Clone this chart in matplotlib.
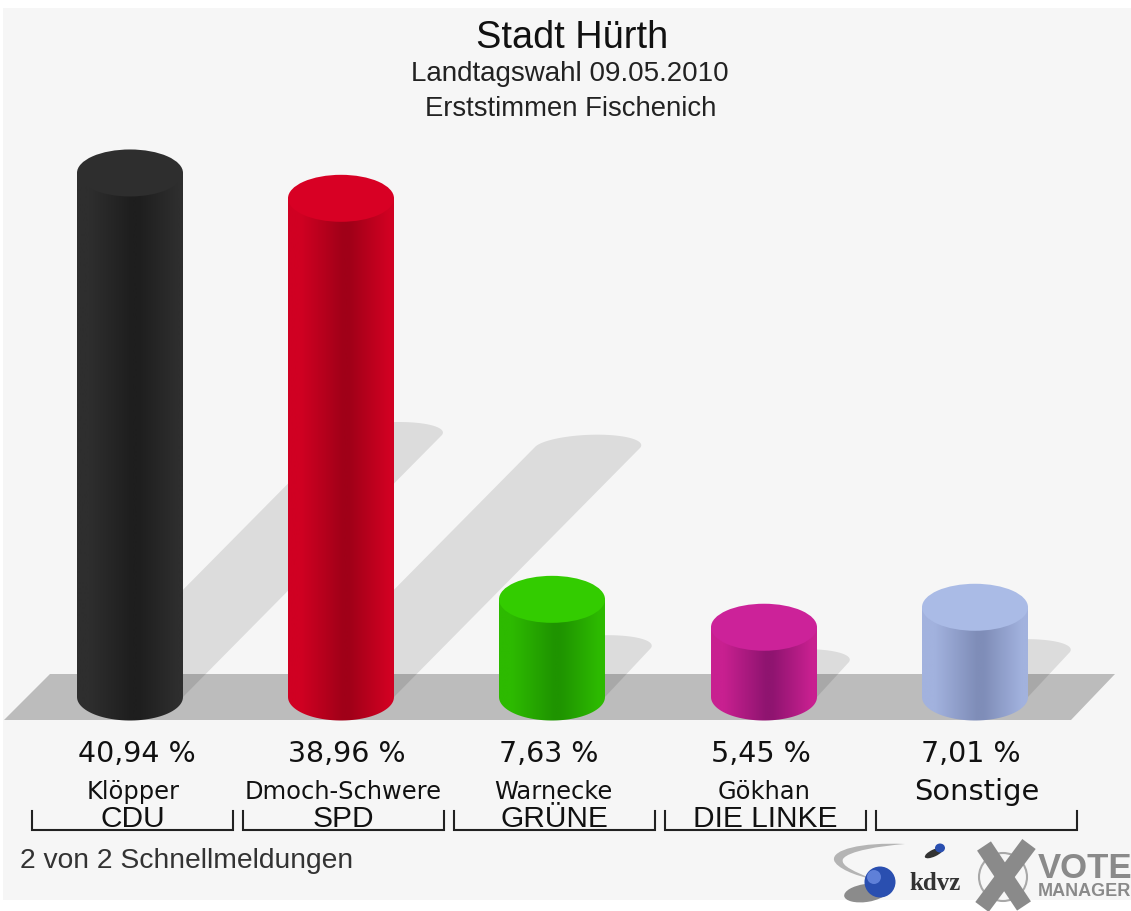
import matplotlib
matplotlib.use("Agg")
import matplotlib.pyplot as plt
import numpy as np
from matplotlib.colors import LinearSegmentedColormap
from matplotlib.patches import Ellipse, Polygon, PathPatch, Rectangle, Circle
from matplotlib.path import Path

# Data -----------------------------------------------------------------
values = [40.94, 38.96, 7.63, 5.45, 7.01]
value_labels = ["40,94 %", "38,96 %", "7,63 %", "5,45 %", "7,01 %"]
candidates = ["Klöpper", "Dmoch-Schwere", "Warnecke", "Gökhan", "Sonstige"]
parties = ["CDU", "SPD", "GRÜNE", "DIE LINKE", ""]
top_colors = ["#2e2e2e", "#d80024", "#33cc00", "#cc2299", "#aabbe6"]
edge_colors = ["#2e2e2e", "#d00022", "#2dba00", "#c82090", "#a2b2de"]
side_colors = ["#1e1e1e", "#a00018", "#1f9400", "#8f1470", "#7f8db8"]

W, H = 1131, 911
BASE_PX = 697.0
PX_PER_PCT = 12.8
centers = [130, 341, 552, 764, 975]
RX, RY = 53, 23.5

plt.rcParams['font.family'] = ['Liberation Sans', 'DejaVu Sans']

fig = plt.figure(figsize=(W / 100, H / 100), dpi=100, facecolor="white")

# percent axes: x in pixels, y in percent
ax = fig.add_axes([0, 0, 1, 1])
ax.set_xlim(0, W)
ax.set_ylim((BASE_PX - H) / PX_PER_PCT, BASE_PX / PX_PER_PCT)
ax.axis("off")

# overlay in pixel coordinates for text and logos
ov = fig.add_axes([0, 0, 1, 1], facecolor="none", zorder=5)
ov.set_xlim(0, W)
ov.set_ylim(H, 0)
ov.axis("off")


def py(px):
    # pixel row -> percent value
    return (BASE_PX - px) / PX_PER_PCT


ax.add_patch(Rectangle((3, py(900)), 1128, py(8) - py(900), color="#f6f6f6", lw=0, zorder=0))

# floor
floor = [(4, py(720)), (1071, py(720)), (1115, py(674)), (50, py(674))]
ax.add_patch(Polygon(floor, closed=True, color="#bcbcbc", lw=0, zorder=1))

for cx, v, top, edge, side in zip(centers, values, top_colors, edge_colors, side_colors):
    h_px = v * PX_PER_PCT

    # shadow thrown up and to the right, half as long as the bar, with a skewed round end
    d = h_px / 2
    ry_pct = 13 / PX_PER_PCT
    t = np.linspace(0, np.pi, 40)
    cap = np.column_stack([cx + d - 3 + RX * np.cos(t) + 10 * np.sin(t), v / 2 + ry_pct * np.sin(t)])
    sh = np.vstack([[(cx - RX, 0), (cx + RX, 0)], cap])
    ax.add_patch(Polygon(sh, closed=True, color="black", alpha=0.1, lw=0, zorder=2))

    # body with horizontal gradient, clipped to the cylinder outline
    ry = RY / PX_PER_PCT
    t = np.linspace(np.pi, 2 * np.pi, 50)
    lower = np.column_stack([cx + RX * np.cos(t), ry * np.sin(t)])
    upper = np.array([[cx + RX, v], [cx - RX, v]])
    outline = Polygon(np.vstack([lower, upper]), closed=True, color="none", lw=0, zorder=3)
    ax.add_patch(outline)
    cmap = LinearSegmentedColormap.from_list("c", [(0, edge), (0.12, edge), (0.52, side), (0.58, side), (0.95, edge), (1, edge)])
    im = ax.imshow(np.linspace(0, 1, 256).reshape(1, -1), cmap=cmap, aspect="auto",
                   extent=[cx - RX, cx + RX, -ry - 0.1, v], zorder=3, interpolation="bilinear")
    im.set_clip_path(outline)
    ax.add_patch(Ellipse((cx, v), 2 * RX, 2 * ry, color=top, lw=0, zorder=4))

ax.set_xlim(0, W)
ax.set_ylim((BASE_PX - H) / PX_PER_PCT, BASE_PX / PX_PER_PCT)

# Titles
ov.text(572, 38, "Stadt Hürth", ha="center", va="center", fontsize=27.3, color="#111111")
ov.text(570, 74, "Landtagswahl 09.05.2010", ha="center", va="center", fontsize=20, color="#222222")
ov.text(571, 109, "Erststimmen Fischenich", ha="center", va="center", fontsize=19.8, color="#222222")

# Labels under the bars
label_x = [137, 347, 549, 761, 971]
cand_x = [133, 343, 553, 764, 977]
for lx, cx, lab, cand in zip(label_x, cand_x, value_labels, candidates):
    ov.text(lx, 754, lab, ha="center", va="center", fontsize=20.5, family="DejaVu Sans", color="#111111")
    size = 20.8 if cand == "Sonstige" else 17.4
    ov.text(cx, 792, cand, ha="center", va="center", fontsize=size, family="DejaVu Sans", color="#111111")

# Brackets with party names
bracket_x = [(32, 233), (243, 444), (454, 655), (665, 866), (876, 1077)]
for (x0, x1), party in zip(bracket_x, parties):
    ov.plot([x0, x0, x1, x1], [811, 830, 830, 811], color="#222222", lw=1.5, solid_joinstyle="miter")
    ov.text((x0 + x1) / 2, 819, party, ha="center", va="center", fontsize=21.5, color="#111111")

ov.text(20, 861, "2 von 2 Schnellmeldungen", ha="left", va="center", fontsize=20.3, color="#333333")

# kdvz logo
swoosh = Path([(905, 844), (860, 842), (832, 850), (834, 860), (836, 868), (856, 876), (872, 879),
               (856, 872), (840, 866), (843, 859), (848, 851), (880, 846), (905, 844)],
              [1, 4, 4, 4, 4, 4, 4, 4, 4, 4, 4, 4, 4])
ov.add_patch(PathPatch(swoosh, facecolor="#b4b4b4", edgecolor="none"))
ov.add_patch(Ellipse((866, 893), 44, 18, angle=-8, color="#333333", alpha=0.55, lw=0))
ov.add_patch(Circle((880, 882), 15.5, color="#2a4fb0", lw=0))
ov.add_patch(Circle((874, 877), 7, color="#5f80d8", lw=0))
ov.add_patch(Ellipse((934, 853), 20, 7, angle=-25, color="#333333", lw=0))
ov.add_patch(Ellipse((940, 848), 10, 9, color="#2a4fb0", lw=0))
ov.text(935, 884, "kdvz", ha="center", va="center", fontsize=18, family="Liberation Serif",
        fontweight="bold", color="#333333")

# Vote manager logo
ov.add_patch(Circle((1003, 877), 24, fill=False, ec="#a8a8a8", lw=1.5))
ov.plot([984, 1024], [846, 906], color="#8a8a8a", lw=12, solid_capstyle="butt")
ov.plot([1029, 982], [844, 907], color="#8a8a8a", lw=12, solid_capstyle="butt")
ov.text(1085, 868, "VOTE", ha="center", va="center", fontsize=25, fontweight="bold", color="#8a8a8a")
ov.text(1084, 891, "MANAGER", ha="center", va="center", fontsize=13, fontweight="bold", color="#8a8a8a")

fig.savefig("out.png", dpi=100)
